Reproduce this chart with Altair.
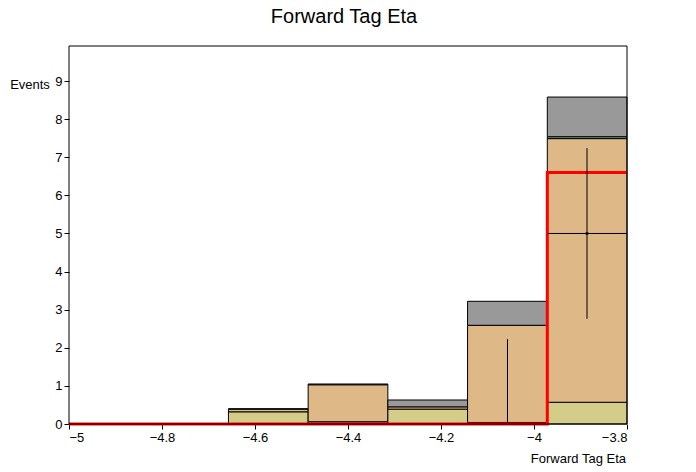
import altair as alt
import pandas as pd

edges = [-5.0, -4.8286, -4.6571, -4.4857, -4.3143, -4.1429, -3.9714, -3.8]
yellow = [0, 0, 0.32, 0.0, 0.39, 0.04, 0.57]
purple = [0, 0, 0.0, 0.06, 0.0, 0.0, 0.0]
tan = [0, 0, 0.07, 0.97, 0.06, 2.55, 6.92]
green = [0, 0, 0, 0, 0, 0, 0.05]
gray = [0, 0, 0.01, 0.02, 0.18, 0.63, 1.04]
red = [0, 0, 0, 0, 0, 0, 6.6]
data_x = [-4.057, -3.886]
data_y = [0.0, 5.0]
data_lo = [0.0, 2.76]
data_hi = [2.23, 7.24]

comps = [("yellow", yellow, "#d4cd8a"), ("purple", purple, "#9a8fb0"),
         ("tan", tan, "#deb887"), ("green", green, "#7fb07f"), ("gray", gray, "#999999")]
rows = []
for i in range(7):
    base = 0.0
    for name, vals, col in comps:
        v = vals[i]
        if v > 0:
            rows.append(dict(x=edges[i], x2=edges[i+1], y=base, y2=base+v, c=name))
            base += v
df = pd.DataFrame(rows)
cdom = [c[0] for c in comps]
crng = [c[2] for c in comps]

xs = alt.Scale(domain=[-5, -3.8], nice=False, zero=False)
ys = alt.Scale(domain=[0, 9.92], nice=False)
xax = alt.Axis(values=[-5, -4.8, -4.6, -4.4, -4.2, -4, -3.8], format="~g",
               title=None, labelFontSize=13, labelFont="Liberation Sans", domain=False,
               grid=False, tickSize=5, labelColor="black", tickColor="black")
yax = alt.Axis(values=list(range(10)), title=None, labelFontSize=13, labelFont="Liberation Sans",
               domain=False, grid=False, tickSize=5, labelColor="black", tickColor="black")

bars = alt.Chart(df).mark_rect(stroke="black", strokeWidth=1).encode(
    x=alt.X("x:Q", scale=xs, axis=xax), x2="x2:Q",
    y=alt.Y("y:Q", scale=ys, axis=yax), y2="y2:Q",
    color=alt.Color("c:N", scale=alt.Scale(domain=cdom, range=crng), legend=None))

rsteps = []
for i in range(7):
    rsteps.append(dict(x=edges[i], y=red[i]))
rsteps.append(dict(x=edges[7], y=red[6]))
rdf = pd.DataFrame(rsteps)
redline = alt.Chart(rdf).mark_line(interpolate="step-after", color="red", strokeWidth=3).encode(
    x=alt.X("x:Q", scale=xs), y=alt.Y("y:Q", scale=ys))

ddf = pd.DataFrame(dict(x=data_x, y=data_y, lo=data_lo, hi=data_hi))
err = alt.Chart(ddf).mark_rule(color="black", strokeWidth=1).encode(
    x=alt.X("x:Q", scale=xs), y=alt.Y("lo:Q", scale=ys), y2="hi:Q")
hdf = pd.DataFrame(dict(x=[edges[6]], x2=[edges[7]], y=[data_y[1]]))
herr = alt.Chart(hdf).mark_rule(color="black", strokeWidth=1).encode(
    x=alt.X("x:Q", scale=xs), x2="x2:Q", y=alt.Y("y:Q", scale=ys))
pt = alt.Chart(ddf[ddf.y > 0]).mark_point(shape="square", size=8, filled=True, color="black").encode(
    x=alt.X("x:Q", scale=xs), y=alt.Y("y:Q", scale=ys))

frame = alt.Chart(pd.DataFrame({"a": [0]})).mark_rect(fill=None, stroke="black", strokeWidth=1).encode(
    x=alt.value(0), x2=alt.value(558), y=alt.value(0), y2=alt.value(378))

tdf = pd.DataFrame({"t": ["Forward Tag Eta"]})
title = alt.Chart(tdf).mark_text(fontSize=20, font="Liberation Sans", align="center").encode(
    x=alt.value(275), y=alt.value(-29), text="t:N")
xt = alt.Chart(tdf).mark_text(fontSize=13, font="Liberation Sans", align="right").encode(
    x=alt.value(557), y=alt.value(413), text="t:N")
ydf = pd.DataFrame({"t": ["Events"]})
yt = alt.Chart(ydf).mark_text(fontSize=13, font="Liberation Sans", align="center").encode(
    x=alt.value(-39), y=alt.value(39), text="t:N")

chart = alt.layer(bars, redline, err, herr, pt, frame, title, xt, yt).properties(
    width=558, height=378,
    autosize=alt.AutoSizeParams(type="none"),
    padding={"left": 61, "top": 38, "right": 61, "bottom": 48},
).configure_view(stroke=None)

chart.save("out.html", embed_options={"renderer": "svg", "actions": False})
